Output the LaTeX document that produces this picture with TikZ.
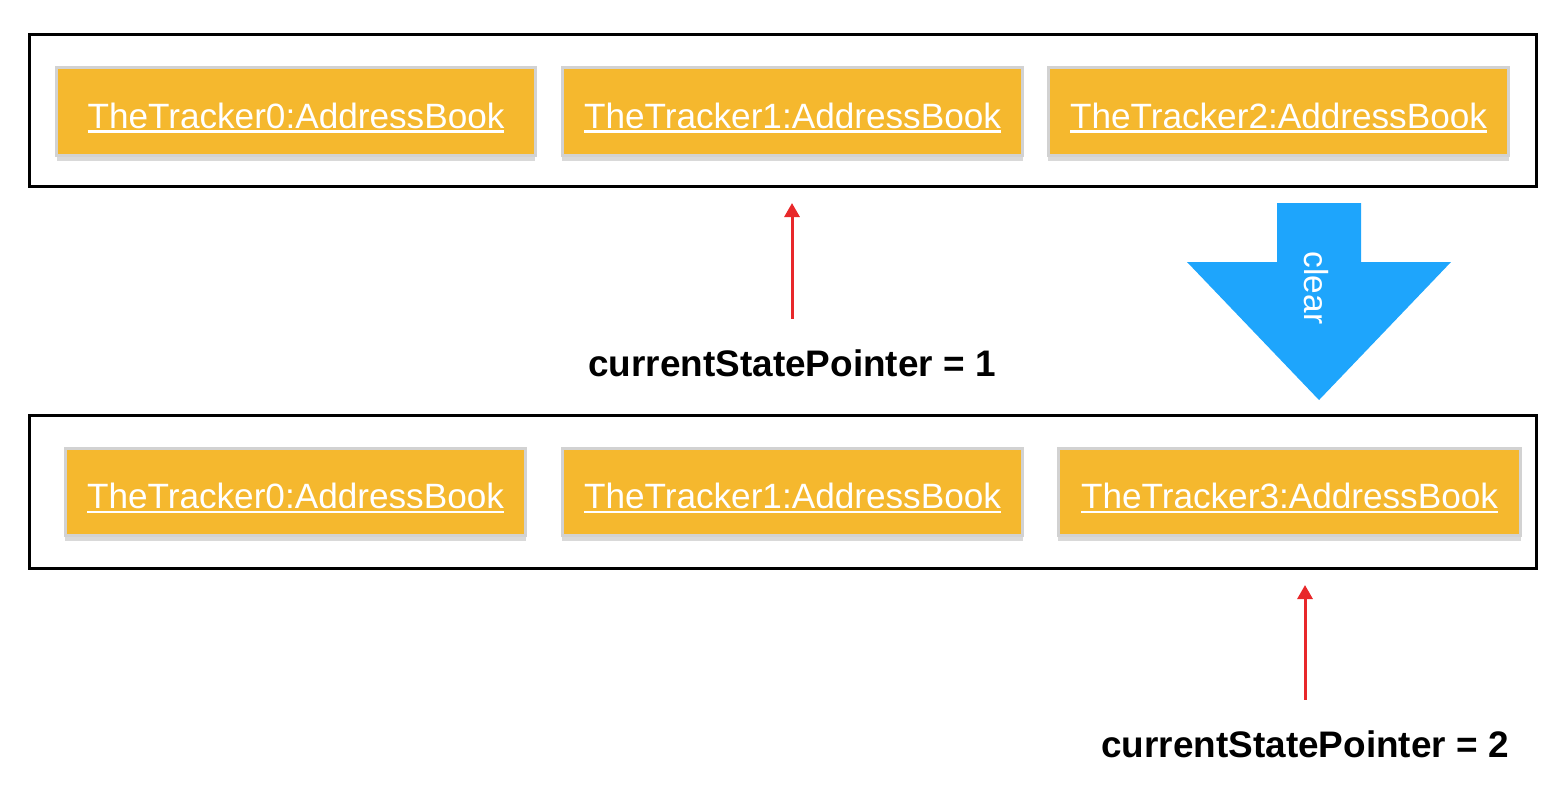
\documentclass[tikz,border=0pt]{standalone}
\usepackage{fontspec}
\setmainfont{Liberation Sans}
\usetikzlibrary{arrows.meta,shadows}
\definecolor{bookfill}{HTML}{F5B82E}
\definecolor{bookline}{HTML}{D2D2D2}
\definecolor{ptrred}{HTML}{E8282A}
\definecolor{clearblue}{HTML}{1EA5FC}
\newcommand{\ulbook}[1]{\setbox0\hbox{#1}\rlap{\rule[-1.3pt]{\wd0}{0.65pt}}\box0}
\begin{document}
\begin{tikzpicture}[x=0.01cm,y=-0.01cm,
  book/.style={draw=bookline,line width=0.9pt,fill=bookfill,text=white,inner sep=0pt,minimum height=0.88cm,text height=9.4pt,text depth=0pt,font=\fontsize{10}{12}\selectfont,drop shadow={shadow xshift=0pt,shadow yshift=-1.6pt,fill=black,opacity=0.15}},
  frame/.style={draw,line width=0.85pt,inner sep=0pt,minimum width=15.07cm},
  ptr/.style={draw=ptrred,line width=0.85pt,shorten <=0.3cm,-{Triangle[length=0.14cm,width=0.15cm]}},
  lbl/.style={font=\bfseries\fontsize{10.5}{12}\selectfont,inner sep=0pt,anchor=base}]
\useasboundingbox (0,0) rectangle (1558,790);
% history before clear
\node[frame,minimum height=1.52cm] (before) at (783,110.5){};
\foreach \n/\x/\w in {0/296/4.78,1/792.5/4.6,2/1278.5/4.6}{\node[book,minimum width=\w cm] (b\n) at (\x,111.5){\ulbook{TheTracker\n:AddressBook}};}
\node[lbl] (ptra) at (792,376){currentStatePointer = 1};
\coordinate (tipa) at (792,203);
\draw[ptr] (ptra) -- (tipa);
% clear arrow
\fill[clearblue] (1277,203)--(1361,203)--(1361,262)--(1451,262)--(1319,400)--(1187,262)--(1277,262)--cycle;
\node[text=white,rotate=-90,inner sep=0pt,font=\fontsize{9.5}{11}\selectfont] (clr) at (1316,288){clear};
% history after clear
\node[frame,minimum height=1.53cm] (after) at (783,492){};
\foreach \n/\x/\w/\t in {0/295.5/4.6/0,1/792.5/4.6/1,2/1289.5/4.62/3}{\node[book,minimum width=\w cm,minimum height=0.87cm] (c\n) at (\x,492){\ulbook{TheTracker\t:AddressBook}};}
\node[lbl] (ptrb) at (1305,757){currentStatePointer = 2};
\coordinate (tipb) at (1305,585);
\draw[ptr] (ptrb) -- (tipb);
\end{tikzpicture}
\end{document}
